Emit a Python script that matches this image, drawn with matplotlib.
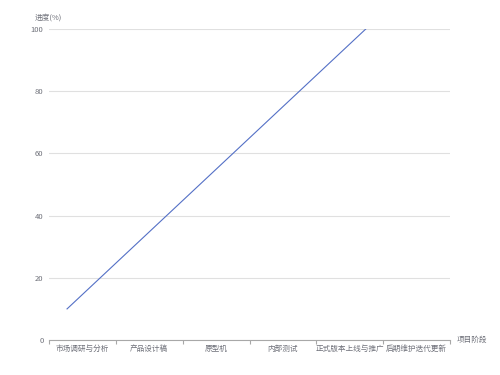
import matplotlib
matplotlib.use("Agg")
import matplotlib.pyplot as plt
import numpy as np

plt.rcParams['font.family'] = ['Noto Sans CJK SC', 'DejaVu Sans']

# data
categories = ["市场调研与分析", "产品设计稿", "原型机", "内部测试",
              "正式版本上线与推广", "后期维护迭代更新"]
line_x = [0.27, 4.74]   # position in category units (0 = left edge of axis)
line_y = [10, 100]
y_ticks = [0, 20, 40, 60, 80, 100]
y_name = "进度(%)"
x_name = "项目阶段"

label_color = "#6e7079"
axis_color = "#a8a8a8"

fig = plt.figure(figsize=(5, 3.75), dpi=100)
ax = fig.add_axes([0.098, 0.0933, 0.802, 0.8294])

ax.plot(line_x, line_y, color="#5470c6", linewidth=0.8, clip_on=True)

ax.set_xlim(0, len(categories))
ax.set_ylim(0, 100)

ax.set_yticks(y_ticks)
ax.set_yticklabels([str(v) for v in y_ticks])
ax.yaxis.grid(True, color="#e0e0e0", linewidth=0.8)
ax.set_axisbelow(True)
ax.tick_params(axis="y", length=0, pad=4, labelsize=5.5, labelcolor=label_color)

# category ticks on boundaries, labels centred
ax.set_xticks(np.arange(len(categories) + 1))
ax.set_xticklabels([])
ax.set_xticks(np.arange(len(categories)) + 0.5, minor=True)
ax.set_xticklabels(categories, minor=True, va="center_baseline")
ax.tick_params(axis="x", which="major", length=3, color=axis_color, width=0.8)
ax.tick_params(axis="x", which="minor", length=0, pad=6, labelsize=5.5, labelcolor=label_color)

for side in ["top", "right", "left"]:
    ax.spines[side].set_visible(False)
ax.spines["bottom"].set_color(axis_color)
ax.spines["bottom"].set_linewidth(0.8)

fig.text(35 / 500, 1 - 18 / 375, y_name, fontsize=5.5, color=label_color,
         ha="left", va="center")
fig.text(457 / 500, 1 - 340 / 375, x_name, fontsize=5.5, color=label_color,
         ha="left", va="center")

fig.savefig("out.png", dpi=100)
